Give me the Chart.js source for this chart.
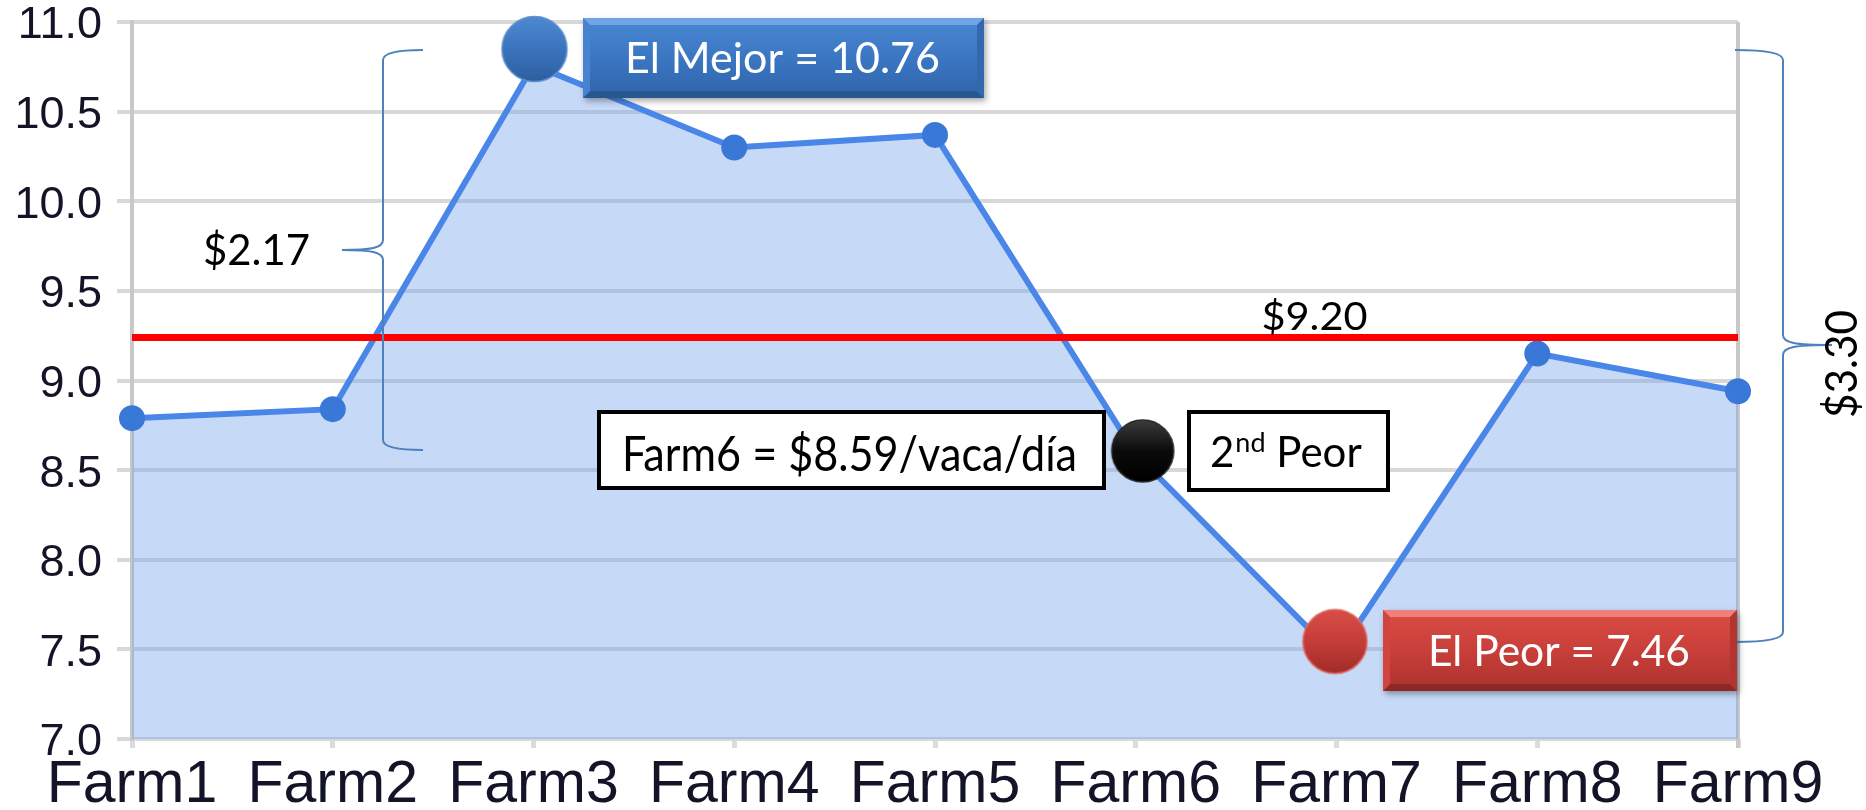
<!DOCTYPE html>
<html>
<head>
<meta charset="utf-8">
<script src="https://cdn.jsdelivr.net/npm/chart.js@4.4.1/dist/chart.umd.min.js"></script>
<style>
  html, body { margin: 0; padding: 0; background: #fff; }
  #wrap { width: 1866px; height: 810px; }
</style>
</head>
<body>
<div id="wrap"><canvas id="farms" width="1866" height="810"></canvas></div>
<script>
// data
var farms = ["Farm1", "Farm2", "Farm3", "Farm4", "Farm5", "Farm6", "Farm7", "Farm8", "Farm9"];
var costPerCow = [8.79, 8.84, 10.76, 10.30, 10.37, 8.59, 7.46, 9.15, 8.94];
var avgLine = [9.24, 9.24, 9.24, 9.24, 9.24, 9.24, 9.24, 9.24, 9.24];
var yMin = 7.0, yMax = 11.0, yStep = 0.5;

var bestLabel = "El Mejor = 10.76";
var worstLabel = "El Peor = 7.46";
var farm6Label = "Farm6 = $8.59/vaca/día";
var avgLabel = "$9.20";
var gapTop = "$2.17";
var gapAll = "$3.30";

var axisInk = "#141428";

// 3d-ish round markers, circle can sit a bit off the point (dx, dy)
function ball(r, dx, dy, light, mid, dark, rim) {
    var c = document.createElement("canvas");
    c.width = Math.ceil(r + Math.abs(dx) + 3) * 2;
    c.height = Math.ceil(r + Math.abs(dy) + 3) * 2;
    var g = c.getContext("2d");
    var cx = c.width / 2 + dx, cy = c.height / 2 + dy;
    var grad = g.createLinearGradient(0, cy - r, 0, cy + r);
    grad.addColorStop(0, light);
    grad.addColorStop(0.5, mid);
    grad.addColorStop(1, dark);
    g.beginPath();
    g.arc(cx, cy, r, 0, Math.PI * 2);
    g.fillStyle = grad;
    g.fill();
    g.lineWidth = 1.5;
    g.strokeStyle = rim;
    g.stroke();
    return c;
}

var blueBall = ball(32.5, 1, -16, "#4d89d1", "#3b74bd", "#2c5f9f", "#5b8fd0");
var blackBall = ball(31, 7, -3, "#3c3c3c", "#0b0b0b", "#000000", "#2a2a2a");
var redBall = ball(32, -1.5, -15, "#d94d47", "#c63d38", "#a02c28", "#de6a64");

var styles = farms.map(function(f, i) {
    if (i === 2) return blueBall;
    if (i === 5) return blackBall;
    if (i === 6) return redBall;
    return "circle";
});

function fitText(ctx, txt, cx, base, size, width, color) {
    ctx.save();
    ctx.font = size + "px Lato";
    var w = ctx.measureText(txt).width;
    ctx.translate(cx, base);
    ctx.scale(width / w, 1);
    ctx.textAlign = "center";
    ctx.textBaseline = "alphabetic";
    ctx.fillStyle = color;
    ctx.fillText(txt, 0, 0);
    ctx.restore();
}

function bevelBox(ctx, x, y, w, h, c) {
    var b = 7;
    ctx.save();
    ctx.shadowColor = "rgba(0,0,0,0.35)";
    ctx.shadowBlur = 6;
    ctx.shadowOffsetX = 2;
    ctx.shadowOffsetY = 3;
    var grad = ctx.createLinearGradient(0, y, 0, y + h);
    grad.addColorStop(0, c[0]);
    grad.addColorStop(0.5, c[1]);
    grad.addColorStop(1, c[2]);
    ctx.fillStyle = grad;
    ctx.fillRect(x, y, w, h);
    ctx.restore();

    function quad(p, col) {
        ctx.beginPath();
        ctx.moveTo(p[0], p[1]);
        ctx.lineTo(p[2], p[3]);
        ctx.lineTo(p[4], p[5]);
        ctx.lineTo(p[6], p[7]);
        ctx.closePath();
        ctx.fillStyle = col;
        ctx.fill();
    }
    quad([x, y, x + w, y, x + w - b, y + b, x + b, y + b], c[3]);
    quad([x, y + h, x + w, y + h, x + w - b, y + h - b, x + b, y + h - b], c[4]);
    quad([x, y, x + b, y + b, x + b, y + h - b, x, y + h], c[5]);
    quad([x + w, y, x + w - b, y + b, x + w - b, y + h - b, x + w, y + h], c[6]);
}

function plainBox(ctx, x, y, w, h) {
    ctx.save();
    ctx.fillStyle = "#fff";
    ctx.fillRect(x, y, w, h);
    ctx.lineWidth = 4;
    ctx.strokeStyle = "#000";
    ctx.strokeRect(x + 2, y + 2, w - 4, h - 4);
    ctx.restore();
}

function braceLeft(ctx, xEnd, xMid, xTip, yTop, yTip, yBot) {
    ctx.beginPath();
    ctx.moveTo(xEnd, yTop);
    ctx.quadraticCurveTo(xMid, yTop, xMid, yTop + 10);
    ctx.lineTo(xMid, yTip - 10);
    ctx.bezierCurveTo(xMid, yTip - 2, xMid - 12, yTip, xTip, yTip);
    ctx.bezierCurveTo(xMid - 12, yTip, xMid, yTip + 2, xMid, yTip + 10);
    ctx.lineTo(xMid, yBot - 10);
    ctx.quadraticCurveTo(xMid, yBot, xEnd, yBot);
    ctx.stroke();
}

function braceRight(ctx, xEnd, xMid, xTip, yTop, yTip, yBot) {
    ctx.beginPath();
    ctx.moveTo(xEnd, yTop);
    ctx.quadraticCurveTo(xMid, yTop, xMid, yTop + 10);
    ctx.lineTo(xMid, yTip - 10);
    ctx.bezierCurveTo(xMid, yTip - 2, xMid + 12, yTip, xTip, yTip);
    ctx.bezierCurveTo(xMid + 12, yTip, xMid, yTip + 2, xMid, yTip + 10);
    ctx.lineTo(xMid, yBot - 10);
    ctx.quadraticCurveTo(xMid, yBot, xEnd, yBot);
    ctx.stroke();
}

var rightFrame = {
    id: "rightFrame",
    beforeDatasetsDraw: function(chart) {
        var ctx = chart.ctx, a = chart.chartArea;
        ctx.save();
        ctx.strokeStyle = "#c8c8c8";
        ctx.lineWidth = 4;
        ctx.beginPath();
        ctx.moveTo(a.right, a.top);
        ctx.lineTo(a.right, a.bottom + 9);
        ctx.stroke();
        ctx.restore();
    }
};

var notes = {
    id: "notes",
    afterDatasetsDraw: function(chart) {
        var ctx = chart.ctx;
        ctx.save();

        // braces
        ctx.strokeStyle = "#4f81bd";
        ctx.lineWidth = 2;
        braceLeft(ctx, 423, 383, 342, 50, 250, 450);
        braceRight(ctx, 1735, 1783, 1832, 50, 345, 642);

        fitText(ctx, gapTop, 256.5, 265, 42, 107, "#000");
        fitText(ctx, avgLabel, 1314.5, 330, 39, 106, "#000");

        ctx.save();
        ctx.translate(1857, 364);
        ctx.rotate(-Math.PI / 2);
        fitText(ctx, gapAll, 0, 0, 44, 108, "#000");
        ctx.restore();

        // best / worst
        bevelBox(ctx, 583, 18, 401, 80,
            ["#4a88d4", "#3b76c2", "#2f65ab", "#6fa5e6", "#28568f", "#4783cf", "#3468ae"]);
        fitText(ctx, bestLabel, 782.5, 73, 42, 315, "#fff");

        bevelBox(ctx, 1383, 610, 354, 81,
            ["#dc4c46", "#c83f3a", "#ad322d", "#f0807a", "#8e2824", "#d3443f", "#b23530"]);
        fitText(ctx, worstLabel, 1559, 666, 43, 262, "#fff");

        // farm6 boxes
        plainBox(ctx, 597, 410, 509, 80);
        fitText(ctx, farm6Label, 849.5, 471, 49, 455, "#000");

        plainBox(ctx, 1187, 410, 203, 82);
        ctx.fillStyle = "#000";
        ctx.textBaseline = "alphabetic";
        ctx.textAlign = "left";
        var x = 1210;
        ctx.font = "42px Lato";
        ctx.fillText("2", x, 467);
        x += ctx.measureText("2").width + 1;
        ctx.font = "27px Lato";
        ctx.fillText("nd", x, 452);
        x += ctx.measureText("nd").width;
        ctx.font = "42px Lato";
        ctx.fillText(" Peor", x, 467);

        ctx.restore();
    }
};

new Chart(document.getElementById("farms"), {
    type: "line",
    data: {
        labels: farms,
        datasets: [{
            label: "Promedio",
            data: avgLine,
            borderColor: "#ff0000",
            borderWidth: 7,
            pointRadius: 0,
            fill: false,
            order: 0
        }, {
            label: "Costo",
            data: costPerCow,
            borderColor: "#4a86e8",
            borderWidth: 6,
            backgroundColor: "rgba(120,165,235,0.42)",
            fill: "start",
            tension: 0,
            pointStyle: styles,
            pointRadius: 13,
            pointBackgroundColor: "#3a78d8",
            pointBorderWidth: 0,
            clip: false,
            order: 1
        }]
    },
    options: {
        responsive: false,
        devicePixelRatio: 1,
        animation: false,
        layout: { padding: { left: 0, right: 128, top: 22, bottom: 0 } },
        plugins: {
            legend: { display: false },
            tooltip: { enabled: false }
        },
        scales: {
            x: {
                offset: false,
                grid: { drawOnChartArea: false, drawTicks: true, tickLength: 9, color: "#dcdcdc", lineWidth: 5 },
                border: { display: false },
                ticks: {
                    color: axisInk,
                    font: { family: "Liberation Sans", size: 59, lineHeight: 1.2 },
                    padding: 2,
                    maxRotation: 0,
                    autoSkip: false
                },
                afterFit: function(scale) {
                    scale.height = 71;
                }
            },
            y: {
                min: yMin,
                max: yMax,
                grid: { color: "#d8d8d8", lineWidth: 4, tickLength: 15 },
                border: { display: true, color: "#c8c8c8", width: 4 },
                ticks: {
                    stepSize: yStep,
                    color: axisInk,
                    font: { family: "Liberation Sans", size: 45, lineHeight: 0.9 },
                    padding: 15,
                    labelOffset: 4,
                    callback: function(v) { return v.toFixed(1); }
                },
                afterFit: function(scale) {
                    scale.width = 132;
                    scale.paddingTop = 0;
                    scale.paddingBottom = 0;
                }
            }
        }
    },
    plugins: [rightFrame, notes]
});
</script>
</body>
</html>
